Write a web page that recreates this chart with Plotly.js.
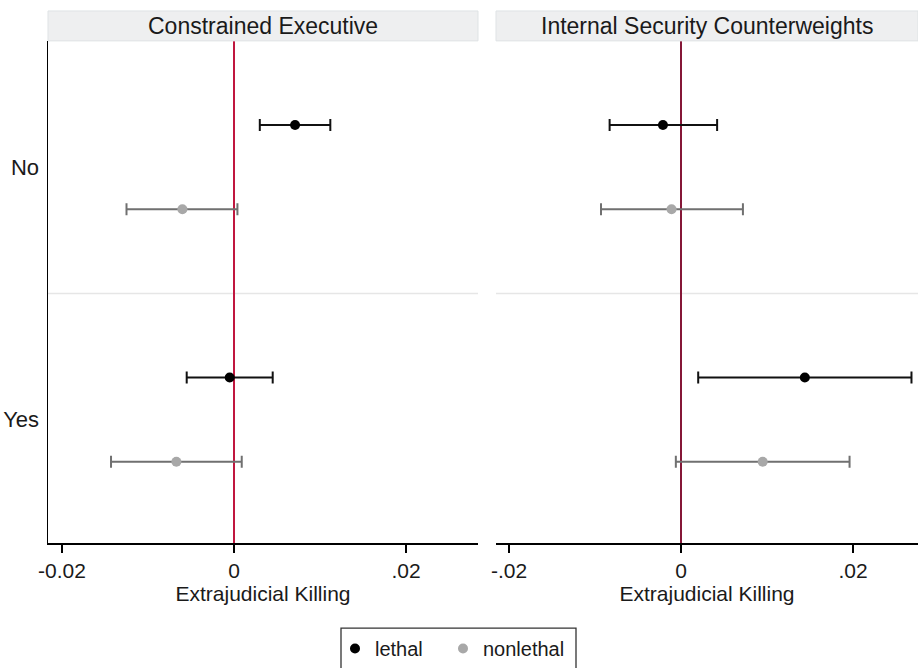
<!DOCTYPE html>
<html>
<head>
<meta charset="utf-8">
<script src="https://cdn.plot.ly/plotly-3.0.1.min.js"></script>
<style>html,body{margin:0;padding:0;background:#fff;}#chart{width:918px;height:668px;}</style>
</head>
<body>
<div id="chart"></div>
<script>
// ---- data ----
const panels = ["Constrained Executive", "Internal Security Counterweights"];
const groups = ["No", "Yes"];
const seriesNames = ["lethal", "nonlethal"];

// Constrained Executive: [No, Yes]
const ce_lethal_est = [0.0071, -0.0005];
const ce_lethal_lo  = [0.0030, -0.0055];
const ce_lethal_hi  = [0.0112, 0.0045];
const ce_nonlethal_est = [-0.0060, -0.0067];
const ce_nonlethal_lo  = [-0.0125, -0.0143];
const ce_nonlethal_hi  = [0.0004, 0.0009];

// Internal Security Counterweights: [No, Yes]
const isc_lethal_est = [-0.0021, 0.0144];
const isc_lethal_lo  = [-0.0083, 0.0020];
const isc_lethal_hi  = [0.0042, 0.0268];
const isc_nonlethal_est = [-0.0011, 0.0095];
const isc_nonlethal_lo  = [-0.0093, -0.0006];
const isc_nonlethal_hi  = [0.0072, 0.0196];

const xTickVals = [-0.02, 0, 0.02];
const xTickTextLeft = ["-0.02", "0", ".02"];
const xTickTextRight = ["-.02", "0", ".02"];
const xTitle = "Extrajudicial Killing";

// ---- layout helpers ----
const W = 918, H = 668;
const px = v => v / W, py = v => (H - v) / H;
const groupPos = groups.map((g, i) => groups.length - 1 - i); // No=1, Yes=0
const offsets = { lethal: 0.167, nonlethal: -0.167 };
const styles = {
  lethal: { marker: "#000000", bar: "#111111", legend: "legend" },
  nonlethal: { marker: "#a8a8a8", bar: "#707070", legend: "legend2" }
};

function trace(name, est, lo, hi, xa, ya, showlegend) {
  return {
    type: "scatter", mode: "markers", name: name,
    x: est,
    y: groupPos.map(p => p + offsets[name]),
    xaxis: xa, yaxis: ya,
    showlegend: showlegend,
    legend: styles[name].legend,
    marker: { color: styles[name].marker, size: 10 },
    error_x: {
      type: "data", symmetric: false,
      array: est.map((e, i) => hi[i] - e),
      arrayminus: est.map((e, i) => e - lo[i]),
      color: styles[name].bar, thickness: 2, width: 6
    },
    hoverinfo: "x"
  };
}

const data = [
  trace("lethal", ce_lethal_est, ce_lethal_lo, ce_lethal_hi, "x", "y", true),
  trace("nonlethal", ce_nonlethal_est, ce_nonlethal_lo, ce_nonlethal_hi, "x", "y", true),
  trace("lethal", isc_lethal_est, isc_lethal_lo, isc_lethal_hi, "x2", "y2", false),
  trace("nonlethal", isc_nonlethal_est, isc_nonlethal_lo, isc_nonlethal_hi, "x2", "y2", false)
];

const font = { family: "Liberation Sans, Arial, sans-serif", color: "#1a1a1a" };
const yDom = [py(545), py(41)];
const yRange = [-0.49, 1.5];
const d1 = [px(48), px(478)], d2 = [px(496), 1];

function xaxis(dom, range, ticktext) {
  return {
    domain: dom, range: range, showgrid: false, zeroline: false,
    showline: true, linecolor: "#000", linewidth: 1.5,
    ticks: "outside", ticklen: 8, tickwidth: 1.5, tickcolor: "#000",
    tickvals: xTickVals, ticktext: ticktext,
    tickfont: Object.assign({ size: 21 }, font),
    title: { text: xTitle, font: Object.assign({ size: 21 }, font), standoff: 4 },
    fixedrange: true
  };
}

function legendBox(xpx) {
  return {
    orientation: "h", x: px(xpx), xanchor: "left", y: py(631), yanchor: "top",
    borderwidth: 0, bgcolor: "rgba(0,0,0,0)",
    font: Object.assign({ size: 20 }, font), itemwidth: 30
  };
}

const layout = {
  width: W, height: H,
  margin: { l: 0, r: 0, t: 0, b: 0 },
  paper_bgcolor: "#fff", plot_bgcolor: "#fff",
  font: font,
  showlegend: true,
  legend: legendBox(335),
  legend2: legendBox(443),
  xaxis: xaxis(d1, [(48 - 234) / 8600, (478 - 234) / 8600], xTickTextLeft),
  xaxis2: xaxis(d2, [(496 - 681) / 8600, (918 - 681) / 8600], xTickTextRight),
  yaxis: {
    domain: yDom, range: yRange, showgrid: false, zeroline: false,
    showline: true, linecolor: "#000", linewidth: 1.5, ticks: "",
    tickvals: groupPos, ticktext: groups, ticklabelstandoff: 3,
    tickfont: Object.assign({ size: 22 }, font), fixedrange: true
  },
  yaxis2: {
    domain: yDom, range: yRange, anchor: "x2", showgrid: false, zeroline: false,
    showline: false, showticklabels: false, ticks: "", fixedrange: true
  },
  shapes: [
    // strips
    { type: "rect", xref: "paper", yref: "paper", x0: d1[0], x1: d1[1], y0: py(41), y1: py(11),
      fillcolor: "#eeeff0", line: { color: "#dfe3e5", width: 1 } },
    { type: "rect", xref: "paper", yref: "paper", x0: d2[0], x1: d2[1], y0: py(41), y1: py(11),
      fillcolor: "#eeeff0", line: { color: "#dfe3e5", width: 1 } },
    // group divider
    { type: "line", xref: "x domain", yref: "y", x0: 0, x1: 1, y0: 0.5, y1: 0.5,
      line: { color: "#e6e6e6", width: 1.5 }, layer: "below" },
    { type: "line", xref: "x2 domain", yref: "y2", x0: 0, x1: 1, y0: 0.5, y1: 0.5,
      line: { color: "#e6e6e6", width: 1.5 }, layer: "below" },
    // zero reference lines
    { type: "line", xref: "x", yref: "y domain", x0: 0, x1: 0, y0: 0, y1: 1,
      line: { color: "#c0173f", width: 2 }, layer: "below" },
    { type: "line", xref: "x2", yref: "y2 domain", x0: 0, x1: 0, y0: 0, y1: 1,
      line: { color: "#851737", width: 2 }, layer: "below" },
    // legend frame
    { type: "rect", xref: "paper", yref: "paper", x0: px(341), x1: px(576), y0: py(672), y1: py(630),
      fillcolor: "rgba(0,0,0,0)", line: { color: "#333", width: 1.3 } }
  ],
  annotations: [
    { text: panels[0], xref: "paper", yref: "paper", x: (d1[0] + d1[1]) / 2, y: py(26),
      showarrow: false, font: Object.assign({ size: 23 }, font), xanchor: "center", yanchor: "middle" },
    { text: panels[1], xref: "paper", yref: "paper", x: (d2[0] + d2[1]) / 2, y: py(26),
      showarrow: false, font: Object.assign({ size: 23 }, font), xanchor: "center", yanchor: "middle" }
  ]
};

Plotly.newPlot("chart", data, layout, { displayModeBar: false, staticPlot: true });
</script>
</body>
</html>
